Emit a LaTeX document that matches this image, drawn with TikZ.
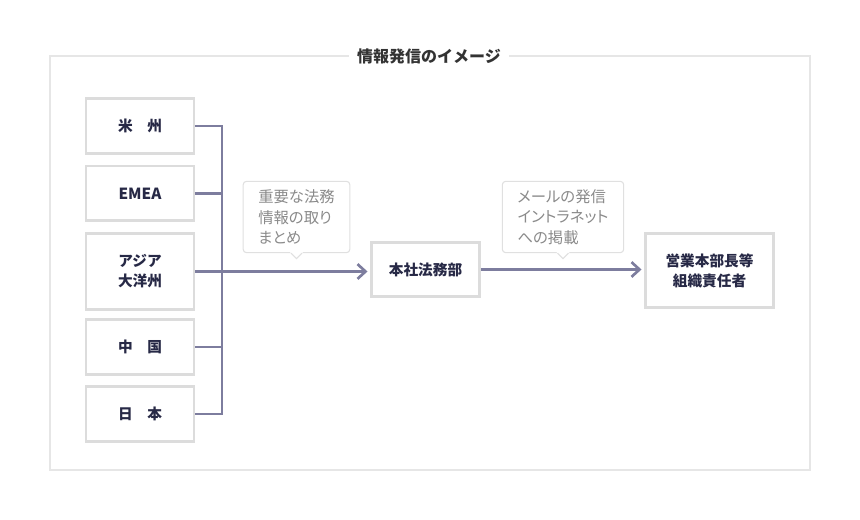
\documentclass[tikz,border=0pt]{standalone}
\usepackage{fontspec}
\setmainfont{Noto Sans CJK JP}
\newfontfamily\notefont[RawFeature=+palt]{Noto Sans CJK JP}
\usetikzlibrary{arrows.meta}
\definecolor{framegray}{HTML}{E6E6E6}
\definecolor{boxgray}{HTML}{DCDCDC}
\definecolor{notegray}{HTML}{E0E0E0}
\definecolor{linkpurple}{HTML}{7D7D9E}
\definecolor{boxtext}{HTML}{272946}
\definecolor{notetext}{HTML}{8A8A8A}

\begin{document}
\begin{tikzpicture}[x=0.75pt,y=-0.75pt,
  region/.style={draw=boxgray,line width=2pt,fill=white,minimum width=81pt,minimum height=41pt,
    align=center,text=boxtext,font=\fontsize{11}{15}\selectfont\bfseries},
  note/.style={draw=notegray,line width=0.8pt,rounded corners=2.5pt,fill=white,minimum width=80pt,
    minimum height=53.5pt,align=left,text=notetext,font=\notefont\fontsize{11.5}{15.5}\selectfont},
  link/.style={draw=linkpurple,line width=2pt}]
  \useasboundingbox (0,0) rectangle (860,520);

  % Frame and title
  \draw[framegray,line width=1.1pt] (50,56) rectangle (810,470);
  \node[fill=white,inner xsep=6pt,text=black!80,font=\fontsize{12}{14}\selectfont\bfseries] (title) at (429,56) {情報発信のイメージ};

  % Regions
  \node[region] (usa) at (140,126) {米　州};
  \node[region] (emea) at (140,193.5) {\fontsize{11.5}{15}\selectfont EMEA};
  \node[region,minimum height=57pt] (asia) at (140,271.5) {アジア\\大洋州};
  \node[region] (china) at (140,347) {中　国};
  \node[region] (japan) at (140,414) {日　本};

  % Headquarters and recipients
  \node[region,minimum height=40.5pt] (hq) at (425.5,269.5) {本社法務部};
  \node[region,minimum width=96pt,minimum height=55.5pt] (sales) at (709.5,270.5) {営業本部長等\\組織責任者};

  % Bus from the regions
  \coordinate (bus) at (222,0);
  \draw[link] (usa.east) -| (bus |- japan.east) -- (japan.east);
  \draw[link] (emea.east) -- (emea.east -| bus);
  \draw[link] (china.east) -- (china.east -| bus);
  \draw[link,-{Straight Barb[length=6pt,width=11pt]},shorten >=2pt] (asia.east) -- (asia.east -| hq.west);
  \draw[link,-{Straight Barb[length=6pt,width=11pt]},shorten >=2pt] (hq.east) -- (hq.east -| sales.west);

  % Notes
  \node[note] (gather) at (296.5,217) {重要な法務\\情報の取り\\まとめ};
  \node[note,minimum width=91pt] (mail) at (563,217) {メールの発信\\イントラネット\\への掲載};
  \foreach \n in {gather,mail} {
    \fill[white] (\n.south) ++(-6.5,-1) -- ++(6.5,6.5) -- ++(6.5,-6.5) -- cycle;
    \draw[notegray,line width=0.8pt] (\n.south) ++(-5.5,0) -- ++(5.5,5.5) -- ++(5.5,-5.5);
  }

\end{tikzpicture}
\end{document}
